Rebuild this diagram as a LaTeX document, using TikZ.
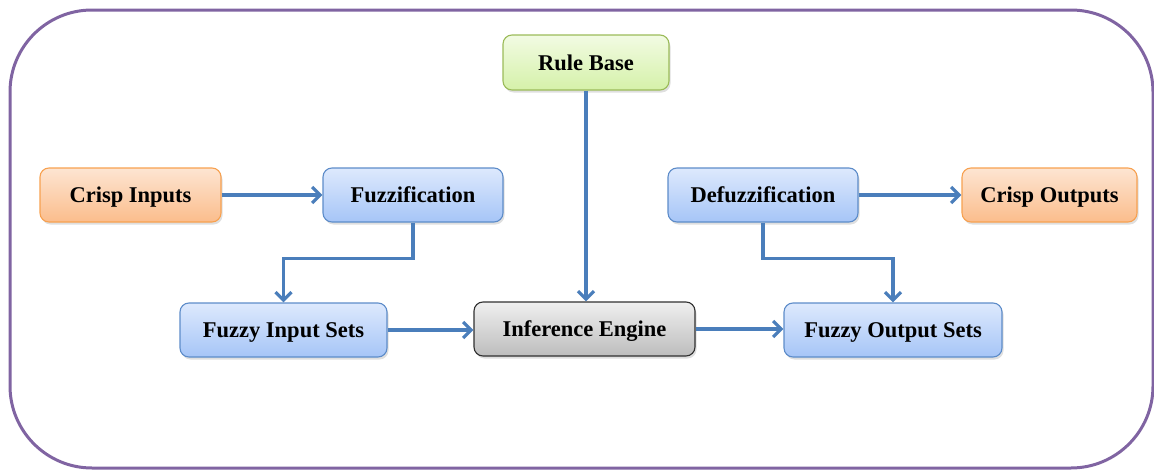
\documentclass[tikz,border=0pt]{standalone}
\usepackage{fontspec}
\setmainfont{Liberation Serif}
\usetikzlibrary{arrows.meta,shadows,calc}
\definecolor{framepurple}{HTML}{8064A2}
\definecolor{arrowblue}{HTML}{4A7EBB}
\definecolor{bluetop}{HTML}{DDE9FD}
\definecolor{bluebot}{HTML}{A6C5F7}
\definecolor{blueedge}{HTML}{5D8CC9}
\definecolor{orangetop}{HTML}{FDE5D2}
\definecolor{orangebot}{HTML}{FBBD8C}
\definecolor{orangeedge}{HTML}{F7A150}
\definecolor{greentop}{HTML}{F2FBE3}
\definecolor{greenbot}{HTML}{D5F1A9}
\definecolor{greenedge}{HTML}{9BBB59}
\definecolor{graytop}{HTML}{EFEFEF}
\definecolor{graybot}{HTML}{BDBDBD}
\definecolor{grayedge}{HTML}{303030}
\tikzset{
  box/.style={rounded corners=9pt, minimum height=54pt, line width=1.1pt,
    font=\fontsize{22.5}{26}\selectfont\bfseries, inner sep=0pt,
    text height=15pt, text depth=0pt,
    drop shadow={shadow xshift=1.5pt, shadow yshift=-2.5pt, opacity=0.25}},
  bluebox/.style={box, draw=blueedge, top color=bluetop, bottom color=bluebot},
  orangebox/.style={box, draw=orangeedge, top color=orangetop, bottom color=orangebot},
  greenbox/.style={box, draw=greenedge, top color=greentop, bottom color=greenbot},
  graybox/.style={box, draw=grayedge, top color=graytop, bottom color=graybot},
  arr/.style={draw=arrowblue, line width=3.3pt, -{Straight Barb[length=8pt,width=16pt]}}
}
\begin{document}
\begin{tikzpicture}[x=1pt,y=-1pt]
\useasboundingbox (0,0) rectangle (1154,471);
\draw[framepurple, line width=3pt, rounded corners=82pt] (10,10) rectangle (1153,468);

\node[orangebox, minimum width=181pt] (ci) at (130.5,195) {Crisp Inputs};
\node[bluebox, minimum width=180pt] (fz) at (413,195) {Fuzzification};
\node[greenbox, minimum width=166pt, minimum height=55pt] (rb) at (586,62.5) {Rule Base};
\node[bluebox, minimum width=190pt] (df) at (763,195) {Defuzzification};
\node[orangebox, minimum width=175pt] (co) at (1049.5,195) {Crisp Outputs};
\node[bluebox, minimum width=207pt] (fi) at (283.5,330) {Fuzzy Input Sets};
\node[graybox, minimum width=221pt] (ie) at (584.5,329) {Inference Engine};
\node[bluebox, minimum width=218pt] (fo) at (893,330) {Fuzzy Output Sets};

\draw[arr] (ci) -- (fz);
\draw[arr] (df) -- (co);
\draw[arr] (fz.south) -- ++(0,36) -| (fi.north);
\draw[arr] (df.south) -- ++(0,36) -| (fo.north);
\draw[arr] (rb.south) -- (rb.south |- ie.north);
\draw[arr] (fi) -- (fi -| ie.west);
\draw[arr] (ie) -- (ie -| fo.west);
\end{tikzpicture}
\end{document}
